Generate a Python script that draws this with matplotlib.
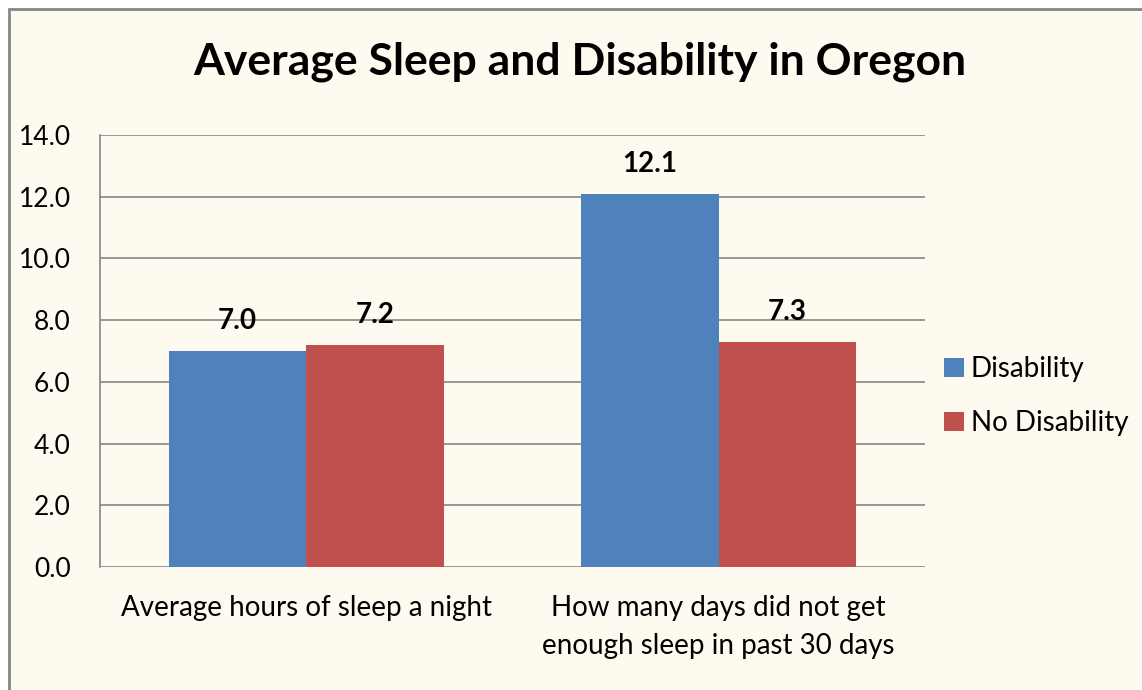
import numpy as np
import matplotlib
matplotlib.use('Agg')
import matplotlib.pyplot as plt
from matplotlib.patches import Rectangle

categories = ['Average hours of sleep a night',
              'How many days did not get\nenough sleep in past 30 days']
disability = [7.0, 12.1]
no_disability = [7.2, 7.3]
series_names = ['Disability', 'No Disability']
yticks = [0, 2, 4, 6, 8, 10, 12, 14]

BG = '#FFFAEF'
BLUE = '#4F81BD'
RED = '#C0504D'
GRID = '#868686'

plt.rcParams['font.family'] = ['Lato', 'DejaVu Sans']

fig = plt.figure(figsize=(11.42, 6.9), dpi=100, facecolor='white')
# chart area frame: left/top edges visible, right/bottom run off the image
fig.patches.append(Rectangle((8.5 / 1142, -0.05), 1.1, 1 - 8.5 / 690 + 0.05,
                             transform=fig.transFigure, facecolor=BG,
                             edgecolor=GRID, linewidth=2, zorder=-10))

ax = fig.add_axes([100 / 1142, 1 - 567 / 690, 825 / 1142, 432 / 690])
ax.set_facecolor(BG)

x = np.arange(len(categories))
w = 0.333
b1 = ax.bar(x - w / 2, disability, w, color=BLUE, label=series_names[0], zorder=3)
b2 = ax.bar(x + w / 2, no_disability, w, color=RED, label=series_names[1], zorder=3)

for bars in (b1, b2):
    for bar in bars:
        ax.annotate(f'{bar.get_height():.1f}',
                    (bar.get_x() + bar.get_width() / 2, bar.get_height()),
                    xytext=(0, 12), textcoords='offset points',
                    ha='center', va='bottom', fontsize=20, fontweight='bold')

ax.set_xlim(-0.5, 1.5)
ax.set_ylim(0, 14)
ax.set_yticks(yticks)
ax.set_yticklabels([f'{v:.1f}' for v in yticks], fontsize=19)
ax.set_xticks(x)
ax.set_xticklabels(categories, fontsize=20, linespacing=1.6)
ax.tick_params(axis='x', length=0, pad=20)
ax.tick_params(axis='y', length=0, pad=21)
ax.yaxis.grid(True, color=GRID, linewidth=1.2, zorder=0)
for side in ('top', 'right', 'bottom'):
    ax.spines[side].set_visible(False)
ax.spines['left'].set_color(GRID)
ax.spines['left'].set_linewidth(1.2)

fig.text(580 / 1142, 1 - 62 / 690, 'Average Sleep and Disability in Oregon',
         ha='center', va='center', fontsize=32, fontweight='bold')

ax.legend(loc='center left', bbox_to_anchor=(1.01, 0.395), frameon=False,
          fontsize=20, handlelength=0.7, handleheight=0.7, handletextpad=0.25,
          labelspacing=1.0, borderaxespad=0)

fig.savefig('out.png', dpi=100, facecolor='white')
